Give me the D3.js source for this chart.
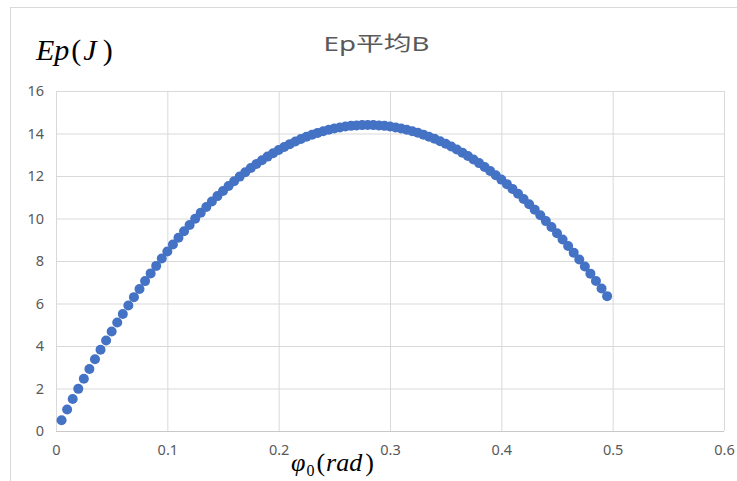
<!DOCTYPE html>
<html>
<head>
<meta charset="utf-8">
<script src="https://cdn.jsdelivr.net/npm/d3@7"></script>
<style>
  html, body { margin: 0; padding: 0; background: #fff; }
  svg { display: block; }
</style>
</head>
<body>
<svg id="chart" width="737" height="481"></svg>
<script>
// Initial angle φ0 (rad) and mean potential energy Ep (J)
const phi0 = [
  0.005, 0.010, 0.015, 0.020, 0.025, 0.030, 0.035, 0.040, 0.045, 0.050,
  0.055, 0.060, 0.065, 0.070, 0.075, 0.080, 0.085, 0.090, 0.095, 0.100,
  0.105, 0.110, 0.115, 0.120, 0.125, 0.130, 0.135, 0.140, 0.145, 0.150,
  0.155, 0.160, 0.165, 0.170, 0.175, 0.180, 0.185, 0.190, 0.195, 0.200,
  0.205, 0.210, 0.215, 0.220, 0.225, 0.230, 0.235, 0.240, 0.245, 0.250,
  0.255, 0.260, 0.265, 0.270, 0.275, 0.280, 0.285, 0.290, 0.295, 0.300,
  0.305, 0.310, 0.315, 0.320, 0.325, 0.330, 0.335, 0.340, 0.345, 0.350,
  0.355, 0.360, 0.365, 0.370, 0.375, 0.380, 0.385, 0.390, 0.395, 0.400,
  0.405, 0.410, 0.415, 0.420, 0.425, 0.430, 0.435, 0.440, 0.445, 0.450,
  0.455, 0.460, 0.465, 0.470, 0.475, 0.480, 0.485, 0.490, 0.495
];
const epMean = [
  0.510, 1.010, 1.502, 1.984, 2.457, 2.920, 3.375, 3.820, 4.257, 4.684,
  5.102, 5.510, 5.910, 6.300, 6.681, 7.053, 7.416, 7.769, 8.114, 8.449,
  8.775, 9.092, 9.400, 9.698, 9.987, 10.267, 10.538, 10.800, 11.053, 11.296,
  11.530, 11.755, 11.971, 12.178, 12.375, 12.563, 12.742, 12.912, 13.073, 13.224,
  13.367, 13.500, 13.624, 13.739, 13.844, 13.941, 14.028, 14.106, 14.175, 14.235,
  14.285, 14.327, 14.359, 14.382, 14.395, 14.400, 14.395, 14.382, 14.359, 14.327,
  14.286, 14.236, 14.177, 14.109, 14.032, 13.947, 13.851, 13.749, 13.636, 13.515,
  13.386, 13.247, 13.100, 12.944, 12.780, 12.607, 12.426, 12.237, 12.038, 11.831,
  11.616, 11.393, 11.161, 10.921, 10.672, 10.416, 10.151, 9.878, 9.598, 9.308,
  9.011, 8.706, 8.393, 8.071, 7.742, 7.405, 7.060, 6.708, 6.347
];
const xTicks = [0, 0.1, 0.2, 0.3, 0.4, 0.5, 0.6];
const xTickLabels = ["0", "0.1", "0.2", "0.3", "0.4", "0.5", "0.6"];
const yTicks = [0, 2, 4, 6, 8, 10, 12, 14, 16];
const chartTitle = "Ep平均B";

const svg = d3.select("#chart");
const plot = { left: 56, right: 724, top: 91, bottom: 431 };
const gridColor = "#d9d9d9";
const textColor = "#595959";
const uiFont = "'Noto Sans', 'Noto Sans CJK SC', sans-serif";
const mathFont = "'Liberation Serif', 'DejaVu Serif', serif";

const x = d3.scaleLinear().domain([0, 0.6]).range([plot.left, plot.right]);
const y = d3.scaleLinear().domain([0, 16]).range([plot.bottom, plot.top]);

// chart area frame
svg.append("rect")
  .attr("x", 10.5).attr("y", 7.5)
  .attr("width", 900).attr("height", 600)
  .attr("fill", "#fff")
  .attr("stroke", gridColor).attr("stroke-width", 1);

// horizontal gridlines + y tick labels
const yAxis = svg.append("g")
  .attr("transform", `translate(${plot.left},0)`)
  .call(d3.axisLeft(y)
    .tickValues(yTicks)
    .tickSize(-(plot.right - plot.left))
    .tickPadding(12)
    .tickFormat(d3.format("d")));
yAxis.select(".domain").remove();
yAxis.selectAll(".tick line").attr("stroke", gridColor).attr("stroke-width", 1);
yAxis.selectAll(".tick text")
  .attr("fill", textColor)
  .style("font-family", uiFont)
  .style("font-size", "14.5px");

// vertical gridlines + x tick labels
const xAxis = svg.append("g")
  .attr("transform", `translate(0,${plot.bottom})`)
  .call(d3.axisBottom(x)
    .tickValues(xTicks)
    .tickSize(-(plot.bottom - plot.top))
    .tickPadding(14)
    .tickFormat((d, i) => xTickLabels[i]));
xAxis.select(".domain").remove();
xAxis.selectAll(".tick line").attr("stroke", gridColor).attr("stroke-width", 1);
xAxis.selectAll(".tick text")
  .attr("fill", textColor)
  .style("font-family", uiFont)
  .style("font-size", "14.5px");

// bottom axis line
svg.append("line")
  .attr("x1", plot.left).attr("x2", plot.right)
  .attr("y1", y(0) + 0.5).attr("y2", y(0) + 0.5)
  .attr("stroke", "#c8c8c8").attr("stroke-width", 1);

// data markers
const pts = phi0.map((v, i) => ({ phi: v, ep: epMean[i] }));
svg.append("g")
  .selectAll("circle")
  .data(pts)
  .join("circle")
  .attr("cx", d => x(d.phi))
  .attr("cy", d => y(d.ep))
  .attr("r", 5)
  .attr("fill", "#4472c4");

// title
svg.append("text")
  .attr("x", 376.5).attr("y", 51)
  .attr("text-anchor", "middle")
  .attr("fill", textColor)
  .attr("textLength", 106)
  .attr("lengthAdjust", "spacingAndGlyphs")
  .style("font-family", uiFont)
  .style("font-size", "20px")
  .text(chartTitle);

// y axis label: Ep(J)
const yLab = svg.append("text")
  .attr("x", 36).attr("y", 60)
  .attr("fill", "#000")
  .style("font-family", mathFont)
  .style("font-size", "30px");
yLab.append("tspan").style("font-style", "italic").text("Ep");
yLab.append("tspan").attr("dx", 2).text("(");
yLab.append("tspan").attr("dx", 2).style("font-style", "italic").text("J");
yLab.append("tspan").attr("dx", 6).text(")");

// x axis label: φ0(rad)
const xLab = svg.append("text")
  .attr("x", 291).attr("y", 471)
  .attr("fill", "#000")
  .style("font-family", mathFont)
  .style("font-size", "26px");
xLab.append("tspan").style("font-style", "italic").text("φ");
xLab.append("tspan").attr("dy", 5).attr("dx", 1).style("font-size", "16px").text("0");
xLab.append("tspan").attr("dy", -5).attr("dx", 2).text("(");
xLab.append("tspan").attr("dx", 1).style("font-style", "italic").text("rad");
xLab.append("tspan").attr("dx", 3).text(")");
</script>
</body>
</html>
